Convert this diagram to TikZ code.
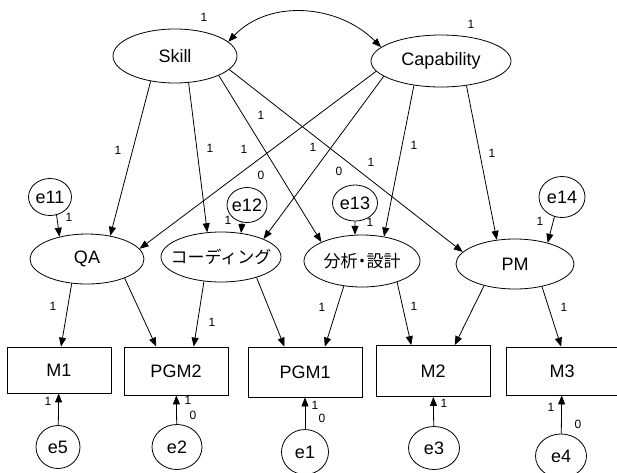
\documentclass[tikz,border=0pt]{standalone}
\usepackage{fontspec}
\setmainfont{Liberation Sans}
\newfontfamily\jpfont{Noto Sans CJK JP}
\usepackage{tikz}
\usetikzlibrary{positioning,arrows.meta,shapes.geometric}
\newcommand{\ntext}[1]{\makebox[0pt]{#1}}

\begin{document}
\begin{tikzpicture}[x=1pt, y=-1pt, line width=0.8pt,
  >={Triangle[length=9pt,width=7pt]},
  latent/.style={ellipse, draw, inner sep=0pt, font=\fontsize{18}{21}\selectfont},
  errvar/.style={ellipse, draw, inner sep=0pt, font=\fontsize{18}{21}\selectfont},
  observed/.style={rectangle, draw, inner sep=0pt, minimum height=48pt, font=\fontsize{18}{21}\selectfont},
  wlabel/.style={inner sep=0pt, font=\fontsize{12}{14}\selectfont}]
\useasboundingbox (0,0) rectangle (617,472);

% Factors
\node[latent, minimum width=124pt, minimum height=54pt] (skill) at (175,56) {\ntext{Skill}};
\node[latent, minimum width=140pt, minimum height=52pt] (cap) at (441,61) {\ntext{Capability}};

% Sub-factors
\node[latent, minimum width=114pt, minimum height=50pt] (qa) at (87,259) {\ntext{QA}};
\node[latent, minimum width=120pt, minimum height=50pt] (code) at (221,257) {\ntext{\jpfont\fontsize{17}{20}\selectfont コーディング}};
\node[latent, minimum width=116pt, minimum height=52pt] (design) at (362,261) {\ntext{\jpfont\fontsize{17}{20}\selectfont 分析\kern-4pt・\kern-4pt設計}};
\node[latent, minimum width=118pt, minimum height=50pt] (pm) at (515,264) {\ntext{PM}};

% Disturbances
\node[errvar, minimum width=43pt, minimum height=37pt] (e11) at (50,197) {\ntext{e11}};
\node[errvar, minimum width=40pt, minimum height=35pt] (e12) at (247,205) {\ntext{e12}};
\node[errvar, minimum width=45pt, minimum height=36pt] (e13) at (355,203) {\ntext{e13}};
\node[errvar, minimum width=46pt, minimum height=41pt] (e14) at (562,197) {\ntext{e14}};

% Measured variables
\node[observed, minimum width=104pt, minimum height=46pt] (m1) at (59,370) {M1};
\node[observed, minimum width=104pt] (pgm2) at (176,371) {PGM2};
\node[observed, minimum width=114pt, minimum height=50pt] (pgm1) at (305,372) {PGM1};
\node[observed, minimum width=114pt, minimum height=51pt] (m2) at (433,371) {M2};
\node[observed, minimum width=112pt] (m3) at (562,371) {M3};

% Measurement errors
\node[errvar, minimum width=44pt, minimum height=43pt] (e5) at (58,447) {\ntext{e5}};
\node[errvar, minimum width=50pt, minimum height=45pt] (e2) at (177,447) {\ntext{e2}};
\node[errvar, minimum width=47pt, minimum height=45pt] (e1) at (305,452) {\ntext{e1}};
\node[errvar, minimum width=51pt, minimum height=43pt] (e3) at (434,448) {\ntext{e3}};
\node[errvar, minimum width=51pt, minimum height=44pt] (e4) at (561,456) {\ntext{e4}};

% Covariance
\draw[<->] (skill.15) .. controls (269,-1) and (338,4) .. (cap.167);

% Paths
\foreach \a/\b/\c/\d in {skill/226/qa/45, skill/-63/code/119, skill/-24/design/155, skill/-14/pm/167,
    cap/189/qa/11, cap/195/code/23, cap/222/design/48, cap/-44/pm/127,
    e11/-70/qa/141, e12/-106/code/50, e13/-90/design/105, e14/-111/pm/33,
    qa/-122/m1/85, qa/-27/pgm2/129, code/-125/pgm2/54, code/-30/pgm1/129,
    design/-126/pgm1/52, design/-31/m2/130, pm/-145/m2/50, pm/-40/m3/92} {
    \draw[->] (\a.\b) -- (\c.\d);
}
\foreach \a/\c in {e5/m1, e2/pgm2, e1/pgm1, e3/m2, e4/m3} {
    \draw[->] (\a) -- (\c);
}

% Estimates
\foreach \x/\y/\t [count=\i] in {204/17/1, 471/24/1,
    118/150/1, 210/148/1, 244/149/1, 261/115/1, 313/147/1, 371/162/1, 414/145/1, 492/153/1,
    261/175/0, 339/171/0,
    69/217/1, 228/220/1, 370/222/1, 540/221/1,
    53/306/1, 212/322/1, 322/307/1, 414/306/1, 564/307/1,
    48/401/1, 188/400/1, 193/415/0, 315/405/1, 322/418/0, 444/403/1, 551/407/1, 578/424/0} {
    \node[wlabel] (w\i) at (\x,\y) {\t};
}
\end{tikzpicture}
\end{document}
